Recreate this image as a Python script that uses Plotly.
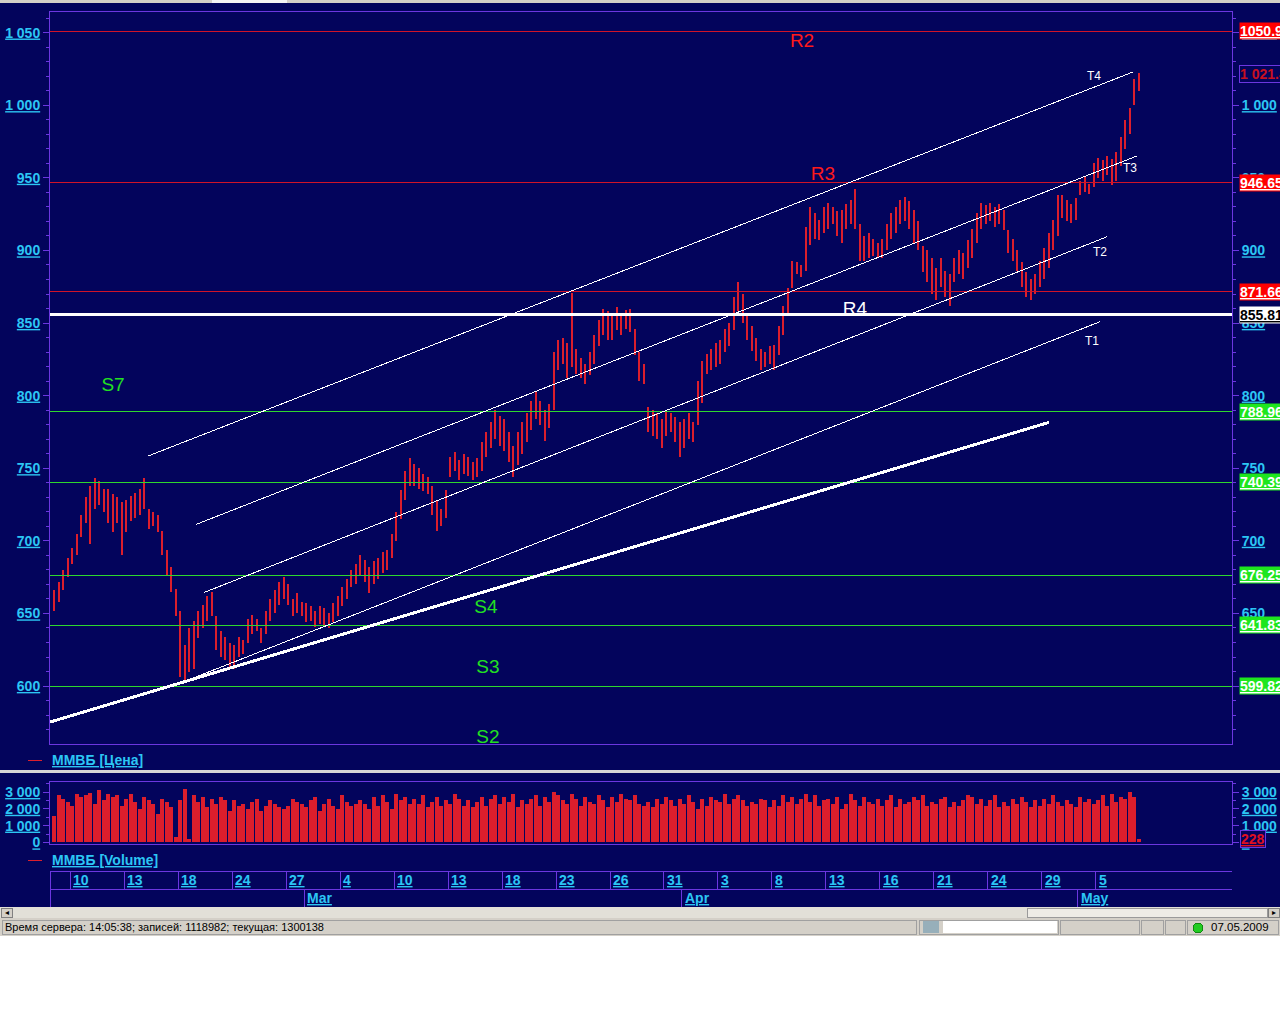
import plotly.graph_objects as go

W, H = 1280, 1024
FONT = "Liberation Sans"

# ---------------- data ----------------
trading_days = [
    "2009-02-09", "2009-02-10", "2009-02-11", "2009-02-12", "2009-02-13", "2009-02-16", "2009-02-17",
    "2009-02-18", "2009-02-19", "2009-02-20", "2009-02-24", "2009-02-25", "2009-02-26", "2009-02-27",
    "2009-03-02", "2009-03-03", "2009-03-04", "2009-03-05", "2009-03-06", "2009-03-10", "2009-03-11",
    "2009-03-12", "2009-03-13", "2009-03-16", "2009-03-17", "2009-03-18", "2009-03-19", "2009-03-20",
    "2009-03-23", "2009-03-24", "2009-03-25", "2009-03-26", "2009-03-27", "2009-03-30", "2009-03-31",
    "2009-04-01", "2009-04-02", "2009-04-03", "2009-04-06", "2009-04-07", "2009-04-08", "2009-04-09",
    "2009-04-10", "2009-04-13", "2009-04-14", "2009-04-15", "2009-04-16", "2009-04-17", "2009-04-20",
    "2009-04-21", "2009-04-22", "2009-04-23", "2009-04-24", "2009-04-27", "2009-04-28", "2009-04-29",
    "2009-04-30", "2009-05-04", "2009-05-05", "2009-05-06", "2009-05-07",
]
bars_per_day = 4

high = [
    666, 672, 680, 688,  695, 705, 718, 730,  738, 743, 741, 736,  736, 732, 730, 727,
    728, 731, 733, 736,  743, 722, 720, 718,  707, 694, 682, 667,  652, 628, 640, 645,
    652, 656, 662, 665,  648, 638, 634, 630,  628, 634, 632, 646,  649, 646, 640, 652,
    660, 666, 672, 675,  670, 660, 664, 658,  657, 655, 652, 655,  654, 650, 657, 662,
    668, 674, 680, 684,  690, 687, 682, 686,  688, 692, 694, 705,  720, 735, 748, 757,
    753, 750, 746, 744,  738, 728, 722, 735,  758, 761, 756, 760,  758, 754, 757, 768,
    775, 782, 790, 786,  784, 775, 765, 775,  782, 788, 796, 803,  796, 790, 794, 830,
    838, 840, 836, 871,  832, 826, 822, 830,  842, 852, 860, 858,  856, 861, 855, 859,
    860, 846, 830, 822,  792, 790, 788, 784,  790, 788, 785, 782,  784, 788, 782, 810,
    824, 829, 832, 836,  838, 846, 850, 868,  878, 870, 856, 848,  840, 832, 830, 834,
    835, 848, 862, 874,  893, 892, 890, 916,  930, 926, 921, 930,  933, 930, 927, 928,
    932, 935, 942, 918,  910, 912, 908, 905,  908, 918, 926, 930,  935, 937, 934, 928,
    920, 903, 900, 895,  888, 895, 886, 884,  895, 900, 898, 907,  915, 926, 933, 931,
    933, 930, 932, 928,  914, 908, 900, 892,  885, 880, 884, 893,  902, 912, 921, 938,
    938, 935, 932, 936,  948, 951, 946, 960,  964, 962, 965, 963,  968, 978, 990, 998,
    1018, 1022,
]
low = [
    652, 658, 666, 675,  684, 690, 703, 712,  698, 722, 725, 720,  712, 706, 712, 690,
    706, 714, 716, 718,  722, 708, 710, 706,  690, 676, 665, 648,  606, 602, 610, 612,
    633, 640, 645, 648,  625, 620, 618, 613,  612, 620, 622, 630,  636, 638, 630, 636,
    645, 650, 656, 660,  656, 648, 650, 648,  644, 645, 641, 643,  642, 640, 644, 648,
    655, 660, 668, 670,  676, 672, 664, 670,  674, 678, 680, 688,  700, 715, 728, 738,
    738, 736, 734, 732,  718, 707, 710, 716,  744, 748, 742, 746,  745, 742, 744, 748,
    758, 764, 770, 765,  762, 754, 744, 752,  760, 768, 776, 784,  780, 769, 778, 790,
    818, 822, 812, 820,  815, 812, 808, 814,  822, 834, 842, 838,  838, 845, 842, 846,
    844, 828, 810, 808,  775, 772, 770, 764,  772, 775, 768, 758,  764, 770, 768, 780,
    795, 815, 818, 820,  822, 830, 834, 845,  858, 850, 838, 831,  824, 818, 820, 822,
    818, 828, 842, 856,  874, 884, 882, 886,  904, 908, 907, 912,  915, 918, 910, 905,
    915, 918, 915, 893,  893, 895, 896, 895,  895, 900, 908, 912,  918, 920, 915, 905,
    900, 885, 878, 870,  866, 875, 868, 862,  878, 884, 880, 888,  895, 905, 915, 918,
    920, 916, 918, 914,  898, 893, 886, 875,  868, 866, 870, 875,  880, 888, 900, 910,
    922, 920, 919, 921,  938, 940, 939, 944,  950, 948, 952, 945,  948, 958, 970, 980,
    1000, 1010,
]
volume = [
    1600, 2800, 2600, 2400,  2200, 2900, 2700, 2800,  2950, 2300, 3100, 2500,  2900, 2700, 2800, 2200,
    2600, 2900, 2400, 2000,  2700, 2500, 2300, 1700,  2600, 2400, 2100, 300,   2500, 3200, 200, 2800,
    2400, 2700, 2100, 2600,  2300, 2700, 2500, 1900,  2500, 2200, 2300, 2000,  2400, 2600, 1900, 2200,
    2500, 2300, 2100, 2000,  2200, 2600, 2400, 2300,  2100, 2500, 2700, 1900,  2300, 2600, 2200, 2000,
    2800, 2400, 2200, 2300,  2500, 2300, 2000, 2700,  2200, 2800, 2400, 2000,  2900, 2500, 2700, 2300,
    2600, 2300, 2800, 2100,  2400, 2700, 2200, 2500,  2300, 2900, 2600, 2200,  2500, 2100, 2400, 2700,
    2200, 2600, 2800, 2300,  2700, 2400, 2900, 2100,  2500, 2300, 2600, 2800,  2200, 2700, 2400, 3000,
    2800, 2500, 2300, 2900,  2600, 2200, 2700, 2400,  2300, 2800, 2500, 2100,  2700, 2400, 2900, 2600,
    2500, 2800, 2300, 2200,  2400, 2100, 2600, 2300,  2700, 2500, 2200, 2600,  2300, 2800, 2400, 2000,
    2600, 2200, 2700, 2500,  2400, 2900, 2300, 2600,  2800, 2500, 2200, 2400,  2300, 2600, 2500, 2100,
    2500, 2200, 2800, 2400,  2700, 2300, 2600, 2900,  2400, 2800, 2200, 2500,  2600, 2300, 2700, 2000,
    2300, 2900, 2500, 2200,  2700, 2400, 2300, 2600,  2200, 2500, 2800, 2100,  2600, 2300, 2400, 2700,
    2500, 2800, 2200, 2400,  2300, 2600, 2700, 2100,  2400, 2200, 2500, 2800,  2700, 2300, 2600, 2200,
    2500, 2800, 2100, 2400,  2200, 2600, 2300, 2700,  2400, 2100, 2500, 2200,  2600, 2300, 2800, 2400,
    2200, 2500, 2300, 2100,  2700, 2400, 2600, 2300,  2500, 2800, 2200, 2900,  2400, 2700, 2600, 3000,
    2700, 228,
]

price_ticks = [600, 650, 700, 750, 800, 850, 900, 950, 1000, 1050]
price_tick_text = ["600", "650", "700", "750", "800", "850", "900", "950", "1 000", "1 050"]
volume_ticks = [0, 1000, 2000, 3000]
volume_tick_text = ["0", "1 000", "2 000", "3 000"]

levels = [1050.91, 946.65, 871.66, 855.81, 788.96, 740.39, 676.25, 641.83, 599.82]
level_kind = ["R", "R", "R", "W", "S", "S", "S", "S", "S"]

level_labels = ["R2", "R3", "R4", "S7", "S4", "S3", "S2"]
level_label_day = [41.67, 42.83, 44.61, 3.39, 24.11, 24.22, 24.22]
level_label_price = [1043.5, 951.9, 858.9, 806.6, 653.7, 612.4, 564.2]

trend_names = ["T4", "T3", "T2", "T1"]
trend_start_day = [5.33, 8.02, 8.46, 7.28]
trend_start_price = [758.4, 711.4, 664.5, 602.8]
trend_end_day = [60.06, 60.27, 58.61, 58.22]
trend_end_price = [1022.9, 965.0, 909.4, 850.9]
trend_label_day = [57.89, 59.89, 58.22, 57.78]
trend_label_price = [1019.4, 956.1, 898.2, 836.9]

base_trend_day = [-0.11, 55.39]
base_trend_price = [575.2, 781.6]

labeled_days = ["2009-02-10", "2009-02-13", "2009-02-18", "2009-02-24", "2009-02-27", "2009-03-04",
                "2009-03-10", "2009-03-13", "2009-03-18", "2009-03-23", "2009-03-26", "2009-03-31",
                "2009-04-03", "2009-04-08", "2009-04-13", "2009-04-16", "2009-04-21", "2009-04-24",
                "2009-04-29", "2009-05-05"]
month_names = ["Mar", "Apr", "May"]
month_starts = ["2009-03-02", "2009-04-01", "2009-05-04"]

last_price = 1021.44
last_volume = 228

status_text = "Время сервера: 14:05:38; записей: 1118982; текущая: 1300138"
status_date = "07.05.2009"

# ---------------- styles ----------------
BG = "#03045c"
PURPLE = "#6b36e0"
CYAN = "#2cc6f4"
RED_LINE = "#d01428"
GREEN_LINE = "#2ed82e"
BAR_RED = "#dc1e2c"


def px(x):
    return x / W


def py(y):
    return 1 - y / H


X_RANGE = [-0.111, 65.556]
PLOT_X = [px(50), px(1232)]
MAIN_Y = [py(744), py(12)]
VOL_Y = [py(844), py(782)]

# ---------------- traces ----------------
bx, by = [], []
vx = []
for i, (h, l) in enumerate(zip(high, low)):
    x = i // bars_per_day + (i % bars_per_day + 0.5) / bars_per_day
    bx += [x, x, None]
    by += [l, h, None]
    vx.append(x)

fig = go.Figure()
fig.add_trace(go.Scatter(x=bx, y=by, mode="lines", line=dict(color=BAR_RED, width=1.6),
                         hoverinfo="skip", showlegend=False, xaxis="x", yaxis="y"))
fig.add_trace(go.Scatter(x=[0], y=[600], mode="markers", marker=dict(opacity=0),
                         hoverinfo="skip", showlegend=False, xaxis="x", yaxis="y2"))
fig.add_trace(go.Bar(x=vx, y=volume, width=0.21, marker=dict(color=BAR_RED, line=dict(width=0)),
                     hoverinfo="skip", showlegend=False, xaxis="x2", yaxis="y3"))
fig.add_trace(go.Scatter(x=[0], y=[0], mode="markers", marker=dict(opacity=0),
                         hoverinfo="skip", showlegend=False, xaxis="x2", yaxis="y4"))

# level labels (R/S) and trend labels (T) - clipped to plot area
lab_colors = {"R": "#ff1a1a", "S": "#22e022"}
lcol = []
for t in level_labels:
    if t == "R4":
        lcol.append("#ffffff")
    else:
        lcol.append(lab_colors[t[0]])
fig.add_trace(go.Scatter(x=level_label_day, y=level_label_price, mode="text", text=level_labels,
                         textposition="middle center", cliponaxis=True,
                         textfont=dict(family=FONT, size=19, color=lcol),
                         hoverinfo="skip", showlegend=False, xaxis="x", yaxis="y"))
fig.add_trace(go.Scatter(x=trend_label_day, y=trend_label_price, mode="text", text=trend_names,
                         textposition="middle center", cliponaxis=True,
                         textfont=dict(family=FONT, size=12, color="#ffffff"),
                         hoverinfo="skip", showlegend=False, xaxis="x", yaxis="y"))

# ---------------- shapes ----------------
shapes = []
for v, k in zip(levels, level_kind):
    col = {"R": RED_LINE, "S": GREEN_LINE, "W": "#ffffff"}[k]
    wid = 2.5 if k == "W" else 1
    shapes.append(dict(type="line", xref="x domain", yref="y", x0=0, x1=1, y0=v, y1=v,
                       line=dict(color=col, width=wid), layer="above"))
for sd, sp, ed, ep in zip(trend_start_day, trend_start_price, trend_end_day, trend_end_price):
    shapes.append(dict(type="line", xref="x", yref="y", x0=sd, y0=sp, x1=ed, y1=ep,
                       line=dict(color="#ffffff", width=1), layer="above"))
shapes.append(dict(type="line", xref="x", yref="y", x0=base_trend_day[0], y0=base_trend_price[0],
                   x1=base_trend_day[1], y1=base_trend_price[1],
                   line=dict(color="#ffffff", width=3), layer="above"))

# window chrome: top strip
shapes.append(dict(type="rect", xref="paper", yref="paper", x0=0, x1=1, y0=py(3), y1=1,
                   fillcolor="#d4d0c8", line=dict(width=0)))
shapes.append(dict(type="rect", xref="paper", yref="paper", x0=px(212), x1=px(287), y0=py(3), y1=1,
                   fillcolor="#f4f4f4", line=dict(width=0)))
# panel separator
shapes.append(dict(type="rect", xref="paper", yref="paper", x0=0, x1=1, y0=py(773), y1=py(770),
                   fillcolor="#d6d6d6", line=dict(width=0)))
# legend dashes
for yy in (760, 860):
    shapes.append(dict(type="line", xref="paper", yref="paper", x0=px(28), x1=px(42), y0=py(yy), y1=py(yy),
                       line=dict(color=BAR_RED, width=1)))

# date axis frame
shapes.append(dict(type="line", xref="paper", yref="paper", x0=px(50), x1=px(1232), y0=py(871), y1=py(871),
                   line=dict(color=PURPLE, width=1)))
shapes.append(dict(type="line", xref="paper", yref="paper", x0=px(50), x1=px(1232), y0=py(889), y1=py(889),
                   line=dict(color=PURPLE, width=1)))
shapes.append(dict(type="line", xref="paper", yref="paper", x0=px(50.5), x1=px(50.5), y0=py(907), y1=py(871),
                   line=dict(color=PURPLE, width=1)))

day_index = {d: i for i, d in enumerate(trading_days)}
annotations = []
for d in labeled_days:
    i = day_index[d]
    shapes.append(dict(type="line", xref="x", yref="paper", x0=i, x1=i, y0=py(889), y1=py(871),
                       line=dict(color=PURPLE, width=1)))
    annotations.append(dict(xref="x", yref="paper", x=i, y=py(880), xanchor="left", yanchor="middle",
                            xshift=1, text=str(int(d[-2:])), showarrow=False,
                            font=dict(family=FONT, size=14, color=CYAN, weight="bold", lineposition="under")))
for m, d in zip(month_names, month_starts):
    i = day_index[d]
    shapes.append(dict(type="line", xref="x", yref="paper", x0=i, x1=i, y0=py(907), y1=py(889),
                       line=dict(color=PURPLE, width=1)))
    annotations.append(dict(xref="x", yref="paper", x=i, y=py(898), xanchor="left", yanchor="middle",
                            xshift=1, text=m, showarrow=False,
                            font=dict(family=FONT, size=14, color=CYAN, weight="bold", lineposition="under")))

# scrollbar
shapes.append(dict(type="rect", xref="paper", yref="paper", x0=0, x1=1, y0=py(918), y1=py(907),
                   fillcolor="#e2e0d8", line=dict(width=0)))
shapes.append(dict(type="rect", xref="paper", yref="paper", x0=px(1), x1=px(12), y0=py(917), y1=py(908),
                   fillcolor="#d4d0c8", line=dict(color="#808080", width=1)))
shapes.append(dict(type="rect", xref="paper", yref="paper", x0=px(1027), x1=px(1267), y0=py(917), y1=py(908),
                   fillcolor="#eeece6", line=dict(color="#9a9a9a", width=1)))
shapes.append(dict(type="rect", xref="paper", yref="paper", x0=px(1268), x1=px(1279), y0=py(917), y1=py(908),
                   fillcolor="#d4d0c8", line=dict(color="#808080", width=1)))
# status bar
shapes.append(dict(type="rect", xref="paper", yref="paper", x0=0, x1=1, y0=py(936), y1=py(918),
                   fillcolor="#d4d0c8", line=dict(width=0)))
shapes.append(dict(type="rect", xref="paper", yref="paper", x0=0, x1=1, y0=0, y1=py(936),
                   fillcolor="#ffffff", line=dict(width=0)))
for x0, x1 in [(2, 916), (919, 1058), (1060, 1139), (1141, 1163), (1165, 1185), (1187, 1278)]:
    shapes.append(dict(type="rect", xref="paper", yref="paper", x0=px(x0), x1=px(x1), y0=py(934), y1=py(920),
                       fillcolor="rgba(0,0,0,0)", line=dict(color="#a0a0a0", width=1)))
shapes.append(dict(type="rect", xref="paper", yref="paper", x0=px(943), x1=px(1057), y0=py(933), y1=py(921),
                   fillcolor="#ffffff", line=dict(width=0)))
shapes.append(dict(type="rect", xref="paper", yref="paper", x0=px(923), x1=px(939), y0=py(933), y1=py(921),
                   fillcolor="#6e9ab0", line=dict(width=0), opacity=0.6))
shapes.append(dict(type="circle", xref="paper", yref="paper", x0=px(1193), x1=px(1203), y0=py(933), y1=py(923),
                   fillcolor="#22cc22", line=dict(color="#118811", width=1)))

# ---------------- annotations ----------------
annotations.append(dict(xref="paper", yref="paper", x=px(50), y=py(760), xanchor="left", yanchor="middle",
                        text="ММВБ [Цена]", showarrow=False,
                        font=dict(family=FONT, size=14, color=CYAN, weight="bold", lineposition="under")))
annotations.append(dict(xref="paper", yref="paper", x=px(50), y=py(860), xanchor="left", yanchor="middle",
                        text="ММВБ [Volume]", showarrow=False,
                        font=dict(family=FONT, size=14, color=CYAN, weight="bold", lineposition="under")))

for v, k in zip(levels, level_kind):
    bg = {"R": "#ff0000", "W": "#ffffff", "S": "#1ee61e"}[k]
    fc = "#000000" if k == "W" else "#ffffff"
    annotations.append(dict(xref="paper", yref="y", x=px(1239), y=v, xanchor="left", yanchor="middle",
                            text=f"{v:.2f}", showarrow=False, bgcolor=bg, borderpad=0,
                            font=dict(family=FONT, size=14, color=fc, weight="bold", lineposition="under")))
annotations.append(dict(xref="paper", yref="y", x=px(1239), y=last_price, xanchor="left", yanchor="middle",
                        text=f"{last_price:,.2f}".replace(",", " "), showarrow=False, bgcolor=BG,
                        bordercolor=PURPLE, borderwidth=1, borderpad=0,
                        font=dict(family=FONT, size=14, color="#c81020", weight="bold")))
annotations.append(dict(xref="paper", yref="y3", x=px(1240), y=last_volume, xanchor="left", yanchor="middle",
                        text=str(last_volume), showarrow=False, bgcolor=BG,
                        bordercolor=PURPLE, borderwidth=1, borderpad=0,
                        font=dict(family=FONT, size=14, color="#e01020", weight="bold", lineposition="under")))

annotations.append(dict(xref="paper", yref="paper", x=px(3), y=py(927), xanchor="left", yanchor="middle",
                        text=status_text, showarrow=False,
                        font=dict(family=FONT, size=11, color="#000000")))
annotations.append(dict(xref="paper", yref="paper", x=px(1209), y=py(927), xanchor="left", yanchor="middle",
                        text=status_date, showarrow=False,
                        font=dict(family=FONT, size=11.5, color="#000000")))
annotations.append(dict(xref="paper", yref="paper", x=px(6.5), y=py(912.5), xanchor="center", yanchor="middle",
                        text="◂", showarrow=False, font=dict(family="DejaVu Sans", size=8, color="#000000")))
annotations.append(dict(xref="paper", yref="paper", x=px(1273.5), y=py(912.5), xanchor="center", yanchor="middle",
                        text="▸", showarrow=False, font=dict(family="DejaVu Sans", size=8, color="#000000")))

# ---------------- axes ----------------
tickfont = dict(family=FONT, size=14, color=CYAN, weight="bold", lineposition="under")


def yax(domain, rng, vals, texts, side, minor_dtick, overlay=None, anchor="x"):
    d = dict(domain=domain, range=rng, tickmode="array", tickvals=vals, ticktext=texts,
             side=side, ticks="outside", ticklen=6, tickcolor=PURPLE, tickwidth=1,
             tickfont=tickfont, showgrid=False, zeroline=False, showline=True, linecolor=PURPLE,
             linewidth=1, fixedrange=True, anchor=anchor, automargin=False,
             minor=dict(tickmode="linear", tick0=0, dtick=minor_dtick, ticks="outside", ticklen=3,
                        tickcolor=PURPLE, showgrid=False))
    if overlay:
        d["overlaying"] = overlay
    return d


def xax(anchor):
    return dict(domain=PLOT_X, range=X_RANGE, showticklabels=False, ticks="", showgrid=False,
                zeroline=False, showline=True, mirror=True, linecolor=PURPLE, linewidth=1,
                anchor=anchor, fixedrange=True, automargin=False)


fig.update_layout(
    template="none",
    width=W, height=H, autosize=False,
    margin=dict(l=0, r=0, t=0, b=0, pad=0, autoexpand=False),
    paper_bgcolor=BG, plot_bgcolor=BG,
    showlegend=False, hovermode=False, dragmode=False,
    bargap=0,
    xaxis=xax("y"),
    xaxis2=xax("y3"),
    yaxis=yax(MAIN_Y, [560.1, 1064.2], price_ticks, price_tick_text, "left", 10, anchor="x"),
    yaxis2=yax(MAIN_Y, [560.1, 1064.2], price_ticks, price_tick_text, "right", 10, overlay="y", anchor="x"),
    yaxis3=yax(VOL_Y, [-90, 3600], volume_ticks, volume_tick_text, "left", 500, anchor="x2"),
    yaxis4=yax(VOL_Y, [-90, 3600], volume_ticks, volume_tick_text, "right", 500, overlay="y3", anchor="x2"),
    shapes=shapes,
    annotations=annotations,
)

post = (
    "document.body.style.margin='0';document.body.style.overflow='hidden';"
    "var s=document.createElement('style');"
    "s.innerHTML='.shapelayer path, .scatterlayer .js-line{shape-rendering:crispEdges;}';"
    "document.head.appendChild(s);"
)
fig.write_html("out.html", config={"displayModeBar": False, "staticPlot": True}, post_script=post)
